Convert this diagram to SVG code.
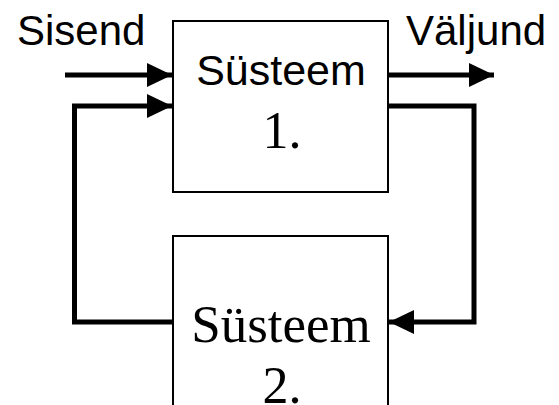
<svg xmlns="http://www.w3.org/2000/svg" width="559" height="405" viewBox="0 0 559 405">
<defs>
<style>
.box{fill:#fff;stroke:#000;stroke-width:2}
.ln{fill:none;stroke:#000;stroke-width:5}
.sans{font-family:"Liberation Sans",Arial,sans-serif;font-size:42px;fill:#000}
.serif{font-family:"Liberation Serif","Times New Roman",serif;font-size:52px;fill:#000}
</style>
<marker id="ah" viewBox="0 0 25 24" refX="25" refY="12" markerWidth="25" markerHeight="24" markerUnits="userSpaceOnUse" orient="auto">
<path d="M0,0 L25,12 L0,24 Z" fill="#000"/>
</marker>
</defs>
<rect width="559" height="405" fill="#fff"/>
<g id="connectors">
<line class="ln" x1="65" y1="75" x2="172" y2="75" marker-end="url(#ah)"/>
<polyline class="ln" points="173,322 74.5,322 74.5,106 172,106" marker-end="url(#ah)"/>
<line class="ln" x1="388" y1="75" x2="494" y2="75" marker-end="url(#ah)"/>
<polyline class="ln" points="388,106 474,106 474,322 389,322" marker-end="url(#ah)"/>
</g>
<g id="label-sisend"><text class="sans" x="17" y="45">Sisend</text></g>
<g id="label-valjund"><text class="sans" x="406" y="45">Väljund</text></g>
<g id="system1">
<rect class="box" x="173" y="21" width="215" height="171"/>
<text class="sans" x="281" y="85" text-anchor="middle" style="font-size:43px">Süsteem</text>
<text class="serif" x="282" y="148" text-anchor="middle">1.</text>
</g>
<g id="system2">
<rect class="box" x="173" y="236" width="215" height="200"/>
<text class="serif" x="281" y="342" text-anchor="middle" style="font-size:53px">Süsteem</text>
<text class="serif" x="282" y="403" text-anchor="middle">2.</text>
</g>
</svg>
